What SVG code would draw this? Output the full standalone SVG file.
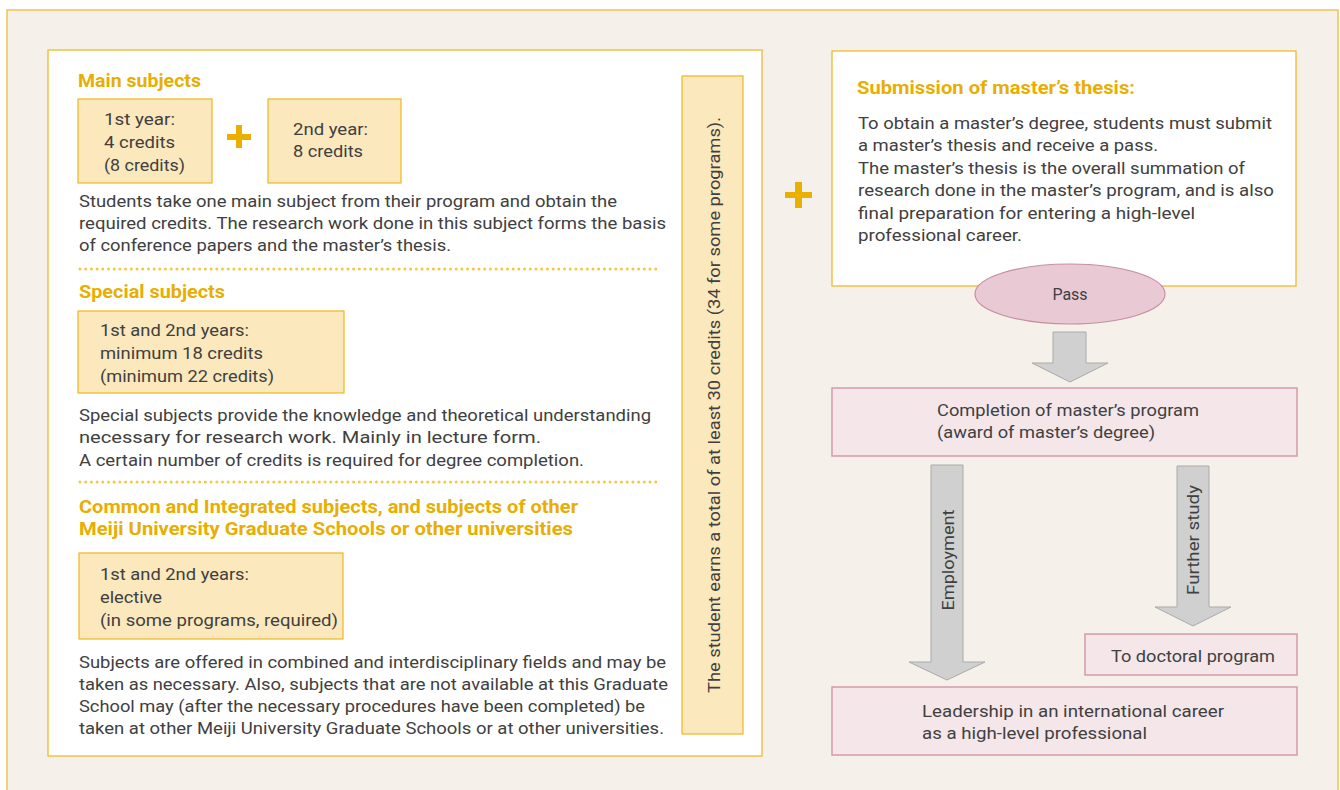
<svg xmlns="http://www.w3.org/2000/svg" width="1340" height="790" viewBox="0 0 1340 790">
<defs>
<style>
.t{font-family:Roboto,"Liberation Sans",sans-serif;font-size:16px;fill:#404040}
.h{font-family:Roboto,"Liberation Sans",sans-serif;font-size:18px;font-weight:bold;fill:#e8ae00}
.ybox{fill:#fbe8bd;stroke:#efb61c;stroke-width:1.2}
.pbox{fill:#f5e6ea;stroke:#d49aab;stroke-width:1.5}
.panel{fill:#ffffff;stroke:#f0bb2a;stroke-width:1.3}
.arr{fill:#cfd0cf;stroke:#a9aaa9;stroke-width:1}
.plus{fill:#e9b000}
.dots{stroke:#f5c842;stroke-width:3;stroke-linecap:round;stroke-dasharray:0 5.7;fill:none}
</style>
</defs>
<rect x="7" y="10" width="1331" height="800" fill="#f5f1ea" stroke="#f0c350" stroke-width="1.5"/>

<g id="left-panel">
<rect class="panel" x="48" y="50" width="714" height="706"/>
</g>

<g id="main-subjects">
<text class="h" x="78" y="87" textLength="123" lengthAdjust="spacingAndGlyphs">Main subjects</text>
</g>
<g id="main-year1">
<rect class="ybox" x="78" y="99" width="134" height="84"/>
<text class="t" x="104" y="125" textLength="71" lengthAdjust="spacingAndGlyphs">1st year:</text>
<text class="t" x="104" y="148" textLength="71" lengthAdjust="spacingAndGlyphs">4 credits</text>
<text class="t" x="104" y="171" textLength="81" lengthAdjust="spacingAndGlyphs">(8 credits)</text>
</g>
<g id="plus1">
<rect class="plus" x="227" y="134" width="24" height="6"/>
<rect class="plus" x="236" y="125" width="6" height="23"/>
</g>
<g id="main-year2">
<rect class="ybox" x="268" y="99" width="133" height="84"/>
<text class="t" x="293" y="135" textLength="75" lengthAdjust="spacingAndGlyphs">2nd year:</text>
<text class="t" x="293" y="157" textLength="70" lengthAdjust="spacingAndGlyphs">8 credits</text>
</g>
<g id="main-desc">
<text class="t" x="79" y="207" textLength="538" lengthAdjust="spacingAndGlyphs">Students take one main subject from their program and obtain the</text>
<text class="t" x="79" y="229" textLength="587" lengthAdjust="spacingAndGlyphs">required credits. The research work done in this subject forms the basis</text>
<text class="t" x="79" y="251" textLength="372" lengthAdjust="spacingAndGlyphs">of conference papers and the master’s thesis.</text>
</g>
<line class="dots" x1="80" y1="269" x2="657" y2="269"/>

<g id="special-subjects">
<text class="h" x="79" y="298" textLength="146" lengthAdjust="spacingAndGlyphs">Special subjects</text>
<rect class="ybox" x="78" y="311" width="266" height="82"/>
<text class="t" x="100" y="336" textLength="149" lengthAdjust="spacingAndGlyphs">1st and 2nd years:</text>
<text class="t" x="100" y="359" textLength="163" lengthAdjust="spacingAndGlyphs">minimum 18 credits</text>
<text class="t" x="100" y="382" textLength="174" lengthAdjust="spacingAndGlyphs">(minimum 22 credits)</text>
<text class="t" x="79" y="421" textLength="572" lengthAdjust="spacingAndGlyphs">Special subjects provide the knowledge and theoretical understanding</text>
<text class="t" x="79" y="443" textLength="462" lengthAdjust="spacingAndGlyphs">necessary for research work. Mainly in lecture form.</text>
<text class="t" x="79" y="466" textLength="505" lengthAdjust="spacingAndGlyphs">A certain number of credits is required for degree completion.</text>
</g>
<line class="dots" x1="80" y1="482" x2="657" y2="482"/>

<g id="common-subjects">
<text class="h" x="79" y="513" textLength="499" lengthAdjust="spacingAndGlyphs">Common and Integrated subjects, and subjects of other</text>
<text class="h" x="79" y="535" textLength="494" lengthAdjust="spacingAndGlyphs">Meiji University Graduate Schools or other universities</text>
<rect class="ybox" x="79" y="553" width="264" height="86"/>
<text class="t" x="100" y="580" textLength="149" lengthAdjust="spacingAndGlyphs">1st and 2nd years:</text>
<text class="t" x="100" y="603" textLength="62" lengthAdjust="spacingAndGlyphs">elective</text>
<text class="t" x="100" y="626" textLength="238" lengthAdjust="spacingAndGlyphs">(in some programs, required)</text>
<text class="t" x="79" y="668" textLength="587" lengthAdjust="spacingAndGlyphs">Subjects are offered in combined and interdisciplinary fields and may be</text>
<text class="t" x="79" y="690" textLength="589" lengthAdjust="spacingAndGlyphs">taken as necessary. Also, subjects that are not available at this Graduate</text>
<text class="t" x="79" y="712" textLength="566" lengthAdjust="spacingAndGlyphs">School may (after the necessary procedures have been completed) be</text>
<text class="t" x="79" y="734" textLength="585" lengthAdjust="spacingAndGlyphs">taken at other Meiji University Graduate Schools or at other universities.</text>
</g>

<g id="total-credits">
<rect class="ybox" x="682" y="76" width="61" height="658"/>
<text class="t" transform="translate(720,405) rotate(-90)" x="0" y="0" text-anchor="middle" textLength="576" lengthAdjust="spacingAndGlyphs">The student earns a total of at least 30 credits (34 for some programs).</text>
</g>

<g id="plus2">
<rect class="plus" x="785" y="192" width="27" height="6"/>
<rect class="plus" x="795" y="182" width="7" height="26"/>
</g>

<g id="thesis">
<rect class="panel" x="832" y="51" width="464" height="235"/>
<text class="h" x="857" y="94" textLength="278" lengthAdjust="spacingAndGlyphs">Submission of master’s thesis:</text>
<text class="t" x="858" y="129" textLength="414" lengthAdjust="spacingAndGlyphs">To obtain a master’s degree, students must submit</text>
<text class="t" x="858" y="151" textLength="300" lengthAdjust="spacingAndGlyphs">a master’s thesis and receive a pass.</text>
<text class="t" x="858" y="174" textLength="387" lengthAdjust="spacingAndGlyphs">The master’s thesis is the overall summation of</text>
<text class="t" x="858" y="196" textLength="416" lengthAdjust="spacingAndGlyphs">research done in the master’s program, and is also</text>
<text class="t" x="858" y="219" textLength="337" lengthAdjust="spacingAndGlyphs">final preparation for entering a high-level</text>
<text class="t" x="858" y="241" textLength="164" lengthAdjust="spacingAndGlyphs">professional career.</text>
</g>

<g id="pass">
<ellipse cx="1070" cy="294" rx="95" ry="30" fill="#e8c9d4" stroke="#c88ea1" stroke-width="1.2"/>
<text class="t" x="1070" y="300" text-anchor="middle">Pass</text>
</g>

<g id="connectors">
<path class="arr" d="M1053,332 H1086 V363 H1108 L1070,382 L1032,363 H1053 Z"/>
<path class="arr" d="M931,465 H963 V662 H985 L947,680 L909,662 H931 Z"/>
<text class="t" transform="translate(954,560) rotate(-90)" x="0" y="0" text-anchor="middle" textLength="101" lengthAdjust="spacingAndGlyphs">Employment</text>
<path class="arr" d="M1177,466 H1209 V607 H1231 L1193,626 L1155,607 H1177 Z"/>
<text class="t" transform="translate(1199,540) rotate(-90)" x="0" y="0" text-anchor="middle" textLength="110" lengthAdjust="spacingAndGlyphs">Further study</text>
</g>

<g id="completion">
<rect class="pbox" x="832" y="388" width="465" height="68"/>
<text class="t" x="937" y="416" textLength="262" lengthAdjust="spacingAndGlyphs">Completion of master’s program</text>
<text class="t" x="937" y="438" textLength="218" lengthAdjust="spacingAndGlyphs">(award of master’s degree)</text>
</g>

<g id="doctoral">
<rect class="pbox" x="1085" y="634" width="212" height="41"/>
<text class="t" x="1111" y="662" textLength="164" lengthAdjust="spacingAndGlyphs">To doctoral program</text>
</g>

<g id="leadership">
<rect class="pbox" x="832" y="687" width="465" height="68"/>
<text class="t" x="922" y="717" textLength="302" lengthAdjust="spacingAndGlyphs">Leadership in an international career</text>
<text class="t" x="922" y="739" textLength="225" lengthAdjust="spacingAndGlyphs">as a high-level professional</text>
</g>
</svg>
